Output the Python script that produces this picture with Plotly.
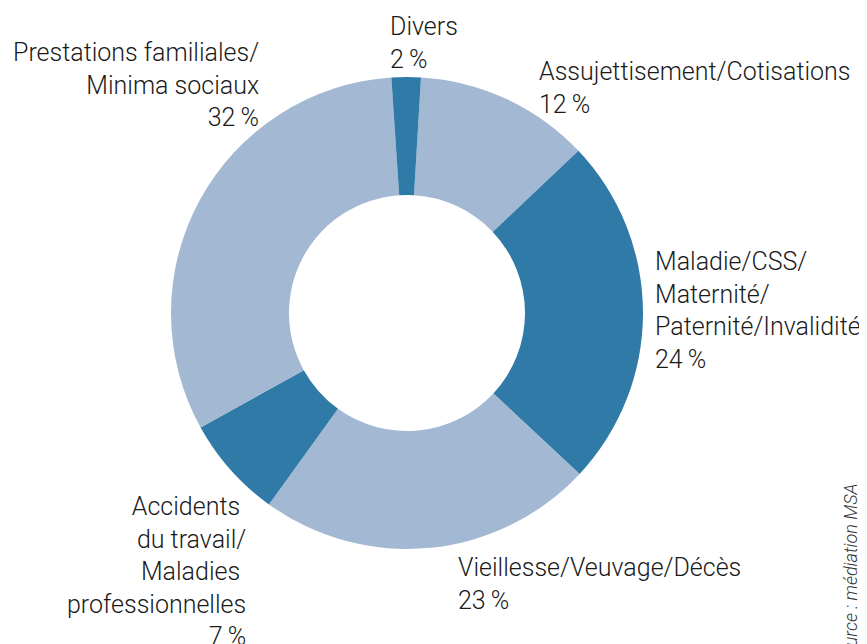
import plotly.graph_objects as go

categories = [
    "Assujettisement/Cotisations",
    "Maladie/CSS/<br>Maternité/<br>Paternité/Invalidité",
    "Vieillesse/Veuvage/Décès",
    "Accidents\u00a0<br>du travail/<br>Maladies\u00a0<br>professionnelles",
    "Prestations familiales/<br>Minima sociaux",
    "Divers",
]
shares = [12, 24, 23, 7, 32, 2]
slice_colors = ["#a3b8d3", "#2f7aa7", "#a3b8d3", "#2f7aa7", "#a3b8d3", "#2f7aa7"]
source_note = "Source : médiation MSA"

W, H = 867, 644
OFF = 8  # page body margin
cx, cy, r = 407 - OFF, 313 - OFF, 236

fig = go.Figure(
    go.Pie(
        labels=categories,
        values=shares,
        sort=False,
        direction="clockwise",
        rotation=3.4,
        hole=0.5,
        marker=dict(colors=slice_colors, line=dict(width=0)),
        textinfo="none",
        hoverinfo="label+percent",
        domain=dict(
            x=[(cx - r) / W, (cx + r) / W],
            y=[1 - (cy + r) / H, 1 - (cy - r) / H],
        ),
    )
)

# label placement: (x px, y px of block centre, anchor)
label_pos = [
    (537, 88, "left"),
    (653, 310, "left"),
    (456, 584, "left"),
    (248, 571, "right"),
    (261, 85, "right"),
    (388, 43, "left"),
]

font_main = dict(family="Roboto, Liberation Sans, sans-serif", size=25,
                 weight=300, color="#1a1a1a")

for name, val, (px, py, anc) in zip(categories, shares, label_pos):
    fig.add_annotation(
        x=(px - OFF) / W, y=1 - (py - OFF) / H, xref="paper", yref="paper",
        text=f"{name}<br>{val}\u2009%",
        showarrow=False, xanchor=anc, yanchor="middle", align=anc,
        font=font_main,
    )

fig.add_annotation(
    x=(850 - OFF) / W, y=1 - (482 - OFF) / H, xref="paper", yref="paper",
    text=f"<i>{source_note}</i>", textangle=-90,
    showarrow=False, xanchor="center", yanchor="top",
    font=dict(family="Roboto, Liberation Sans, sans-serif", size=18,
              weight=300, color="#333333"),
)

fig.update_layout(
    width=W, height=H,
    margin=dict(l=0, r=0, t=0, b=0),
    paper_bgcolor="white", plot_bgcolor="white",
    showlegend=False,
)

fig.write_html("out.html")
